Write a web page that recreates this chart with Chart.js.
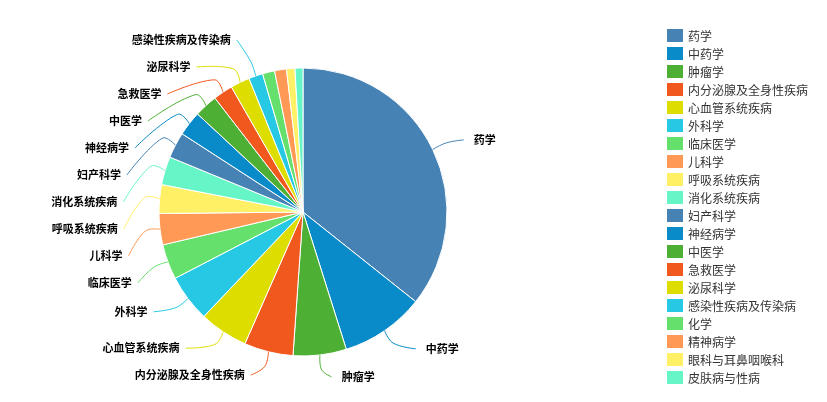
<!DOCTYPE html>
<html>
<head>
<meta charset="utf-8">
<script src="https://cdn.jsdelivr.net/npm/chart.js@4.4.1/dist/chart.umd.min.js"></script>
<style>
  html, body { margin: 0; padding: 0; background: #fff; }
  #wrap { width: 827px; height: 402px; position: relative; }
</style>
</head>
<body>
<div id="wrap"><canvas id="c" width="827" height="402"></canvas></div>
<script>
// Subject categories, in drawing order (clockwise from 12 o'clock)
const categories = [
  '药学', '中药学', '肿瘤学', '内分泌腺及全身性疾病', '心血管系统疾病',
  '外科学', '临床医学', '儿科学', '呼吸系统疾病', '消化系统疾病',
  '妇产科学', '神经病学', '中医学', '急救医学', '泌尿科学',
  '感染性疾病及传染病', '化学', '精神病学', '眼科与耳鼻咽喉科', '皮肤病与性病'
];

// Record counts per category
const counts = [
  1285, 340, 215, 198, 197,
  191, 142, 126, 116, 114,
  105, 100, 94, 79, 78,
  57, 49, 48, 34, 32
];

// Repeating slice palette
const palette = [
  '#4682b4', '#088bc8', '#4db034', '#f0581e', '#dddd00',
  '#26c8e4', '#66e06c', '#ff9955', '#fff066', '#66f5c7'
];

const sliceColors = categories.map((_, i) => palette[i % palette.length]);

const labelFont = 'bold 11px "Noto Sans CJK SC", "Noto Sans", sans-serif';
const legendFont = '12px "Noto Sans CJK SC", "Noto Sans", sans-serif';
const minLabelDeg = 5.5;   // smaller slices get no outer label
const labelGap = 27;       // vertical spacing between stacked labels
const labelTop = 40;
const labelBottom = 388;
const lineLen = 15;        // radial part of the leader line
const lineLen2 = 15;       // horizontal reach toward the text
const lineSmooth = 0.4;

// Spread labels on one side so they keep a minimum spacing while staying
// as close as possible to their natural heights (pool-adjacent-violators).
function spreadLabels(list) {
  const n = list.length;
  if (!n) return;
  const blocks = [];
  list.forEach((it, k) => {
    blocks.push({ sum: it.natY - k * labelGap, cnt: 1 });
    while (blocks.length > 1) {
      const b = blocks[blocks.length - 1], a = blocks[blocks.length - 2];
      if (a.sum / a.cnt > b.sum / b.cnt) {
        a.sum += b.sum; a.cnt += b.cnt; blocks.pop();
      } else break;
    }
  });
  const lo = labelTop, hi = labelBottom - (n - 1) * labelGap;
  let k = 0;
  blocks.forEach(b => {
    const m = Math.min(Math.max(b.sum / b.cnt, lo), hi);
    for (let j = 0; j < b.cnt; j++, k++) list[k].y = m + k * labelGap;
  });
}

// Smooth polyline through three points (edge, elbow, label end)
function smoothLeader(ctx, p0, p1, p2) {
  const vx = (p2[0] - p0[0]) * lineSmooth, vy = (p2[1] - p0[1]) * lineSmooth;
  const d0 = Math.hypot(p1[0] - p0[0], p1[1] - p0[1]);
  const d1 = Math.hypot(p2[0] - p1[0], p2[1] - p1[1]);
  const s = d0 + d1 || 1;
  const a = d0 / s, b = d1 / s;
  ctx.moveTo(p0[0], p0[1]);
  ctx.bezierCurveTo(p0[0], p0[1], p1[0] - vx * a, p1[1] - vy * a, p1[0], p1[1]);
  ctx.bezierCurveTo(p1[0] + vx * b, p1[1] + vy * b, p2[0], p2[1], p2[0], p2[1]);
}

// Outer labels with leader lines
const pieLabels = {
  id: 'pieLabels',
  afterDatasetsDraw(chart) {
    const meta = chart.getDatasetMeta(0);
    const ctx = chart.ctx;
    const colors = chart.data.datasets[0].backgroundColor;
    const items = [];
    meta.data.forEach((arc, i) => {
      const p = arc.getProps(['x', 'y', 'startAngle', 'endAngle', 'outerRadius'], true);
      const sweep = p.endAngle - p.startAngle;
      if (sweep < minLabelDeg * Math.PI / 180) return;
      const mid = (p.startAngle + p.endAngle) / 2;
      const ux = Math.cos(mid), uy = Math.sin(mid);
      items.push({
        cx: p.x, cy: p.y, r: p.outerRadius, ux, uy,
        side: ux < 0 ? -1 : 1,
        natY: p.y + (p.outerRadius + 22) * uy,
        text: chart.data.labels[i],
        color: colors[i]
      });
    });
    [-1, 1].forEach(side => {
      spreadLabels(items.filter(it => it.side === side).sort((a, b) => a.natY - b.natY));
    });

    ctx.save();
    items.forEach(it => {
      const dy = it.y - it.cy;
      const reach = it.r + lineLen;
      let off;
      if (Math.abs(dy) < reach) {
        // follow an ellipse around the pie
        const A = it.r + 42, B = it.r + 38;
        off = A * Math.sqrt(Math.max(0, 1 - (dy * dy) / (B * B)));
      } else {
        // far above / below: keep the text next to its own slice
        off = Math.abs(reach * it.ux) + lineLen2 + 5;
      }
      const textX = it.cx + it.side * off;
      const p0 = [it.cx + it.r * it.ux, it.cy + it.r * it.uy];
      const p1 = [it.cx + reach * it.ux, it.cy + reach * it.uy];
      const p2 = [textX - it.side * (it.side < 0 ? 6 : 10), it.y];

      ctx.beginPath();
      smoothLeader(ctx, p0, p1, p2);
      ctx.strokeStyle = it.color;
      ctx.lineWidth = 1;
      ctx.stroke();

      ctx.font = labelFont;
      ctx.fillStyle = '#000';
      ctx.textBaseline = 'middle';
      ctx.textAlign = it.side < 0 ? 'right' : 'left';
      ctx.fillText(it.text, textX, it.y);
    });
    ctx.restore();
  }
};

// Vertical legend on the right
const sideLegend = {
  id: 'sideLegend',
  afterDraw(chart) {
    const ctx = chart.ctx;
    const colors = chart.data.datasets[0].backgroundColor;
    ctx.save();
    ctx.font = legendFont;
    ctx.textBaseline = 'middle';
    ctx.textAlign = 'left';
    chart.data.labels.forEach((name, i) => {
      const top = 29 + i * 18;
      ctx.fillStyle = colors[i];
      ctx.fillRect(667, top, 16, 13);
      ctx.fillStyle = '#333';
      ctx.fillText(name, 688, top + 7);
    });
    ctx.restore();
  }
};

new Chart(document.getElementById('c'), {
  type: 'pie',
  data: {
    labels: categories,
    datasets: [{
      data: counts,
      backgroundColor: sliceColors,
      borderColor: '#ffffff',
      borderWidth: 1,
      radius: 144
    }]
  },
  options: {
    responsive: false,
    devicePixelRatio: 1,
    animation: false,
    events: [],
    radius: 144,
    layout: { padding: { left: 100, right: 321, top: 30, bottom: 8 } },
    plugins: {
      legend: { display: false },
      tooltip: { enabled: false }
    }
  },
  plugins: [pieLabels, sideLegend]
});
</script>
</body>
</html>
